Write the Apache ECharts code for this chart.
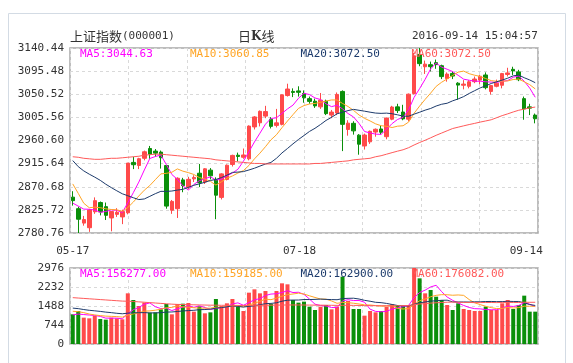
<!DOCTYPE html>
<html><head><meta charset="utf-8">
<script src="https://cdn.jsdelivr.net/npm/echarts@6/dist/echarts.min.js"></script>
<style>html,body{margin:0;padding:0;background:#fff}#c{width:573px;height:363px}</style>
</head><body><div id="c"></div>
<script>
// ---------------- data ----------------
const dates = ['05-17','05-18','05-19','05-20','05-23','05-24','05-25','05-26','05-27','05-30','05-31','06-01','06-02','06-03','06-06','06-07','06-08','06-13','06-14','06-15','06-16','06-17','06-20','06-21','06-22','06-23','06-24','06-27','06-28','06-29','06-30','07-01','07-04','07-05','07-06','07-07','07-08','07-11','07-12','07-13','07-14','07-15','07-18','07-19','07-20','07-21','07-22','07-25','07-26','07-27','07-28','07-29','08-01','08-02','08-03','08-04','08-05','08-08','08-09','08-10','08-11','08-12','08-15','08-16','08-17','08-18','08-19','08-22','08-23','08-24','08-25','08-26','08-29','08-30','08-31','09-01','09-02','09-05','09-06','09-07','09-08','09-09','09-12','09-13','09-14'];
const opens = [2850.5,2828,2800,2791,2822,2840,2832,2810,2817,2812,
2820,2918,2912,2926,2945,2940,2938,2912,2825,2828,
2884,2870,2886,2897,2880,2903,2884,2850,2885,2914,
2932,2928,2925,2987,2995,3008,3002,2990,2992,3048,
3056,3057,3052,3042,3037,3026,3037,3010,3014,3056,
2982,2994,2971,2950,2958,2977,2983,2968,3002,3026,
3016,3002,3052,3128,3104,3108,3112,3106,3081,3091,
3072,3068,3066,3075,3078,3088,3056,3066,3068,3089,
3099,3094,3042,3026,3010];
const highs = [2862,2832,2814,2827,2850,2842,2840,2823,2829,2826,
2917,2929,2927,2941,2950,2944,2941,2913,2845,2889,
2888,2890,2893,2915,2907,2907,2889,2897,2914,2933,
2937,2945,2990,3008,3019,3028,3006,3022,3050,3071,
3062,3066,3058,3046,3042,3053,3040,3020,3054,3058,
3000,2998,2973,2974,2980,2984,2990,3005,3028,3032,
3030,3052,3131,3140.44,3116,3114,3118,3108,3093,3095,
3074,3078,3078,3085,3088,3093,3068,3079,3092,3102,
3104,3098,3046,3032,3013];
const lows = [2834,2780.76,2795,2783,2818,2815,2806,2784,2812,2798,
2817,2905,2905,2922,2925,2929,2906,2828,2818,2810,
2860,2866,2880,2870,2876,2885,2807.6,2846,2883,2910,
2920,2925,2922,2982,2988,3004,2984,2986,2990,3046,
3045,3046,3034,3032,3024,3022,3010,3004,3010,2940,
2970,2972,2933,2943,2954,2968,2972,2963,3000,3014,
3000,2998,3050,3105,3090,3095,3100,3080,3075,3080,
3040,3060,3062,3072,3070,3060,3050,3064,3062,3085,
3088,3076,3001,3010,2994];
const closes = [2843.68,2807.51,2806.91,2825.48,2843.65,2821.67,2815.09,2822.44,2821.05,2822.45,
2916.62,2913.51,2925.23,2938.68,2934.10,2936.04,2927.16,2833.07,2842.19,2887.21,
2872.82,2885.11,2888.81,2878.56,2905.55,2891.96,2854.29,2895.70,2912.56,2931.59,
2929.61,2932.48,2988.60,3006.39,3017.29,3016.85,2988.09,2994.92,3049.38,3060.69,
3054.02,3054.30,3043.56,3036.60,3027.90,3039.01,3012.82,3015.83,3050.17,2992.00,
2994.33,2979.34,2953.39,2971.28,2978.46,2982.43,2976.70,3004.28,3025.68,3018.75,
3002.64,3050.67,3125.20,3110.04,3109.04,3104.11,3108.10,3084.81,3089.71,3085.88,
3068.33,3070.31,3074.68,3080.13,3085.49,3063.31,3067.35,3072.10,3090.71,3091.93,
3095.95,3078.85,3021.98,3023.51,3002.85];
const volumes = [1162,1292,1031,1005,1096,979,953,1031,1005,966,
1984,1723,1488,1619,1227,1240,1358,1566,1162,1566,
1579,1606,1266,1475,1201,1240,1762,1488,1593,1762,
1449,1292,2010,2141,1984,2075,1566,2075,2376,2337,
1723,1619,1658,1462,1331,1462,1527,1358,1462,2637,
1684,1371,1371,1110,1292,1240,1292,1462,1553,1527,
1488,1527,2976,2571,1984,2115,1853,1723,1527,1331,
1593,1371,1331,1292,1292,1462,1331,1331,1593,1723,
1371,1527,1893,1266,1266];
// closes / volumes of the 19 sessions before 05-17 (needed for the MA5/10/20 lines at the left edge)
const priorCloses = [3042.82,2972.58,2952.89,2959.24,2946.67,2964.70,2953.67,2945.59,2938.32,2992.64,2991.27,2997.84,2913.25,2832.59,2832.11,2837.04,2835.86,2827.11,2850.86];
const priorVolumes = [1700,1750,1600,1500,1450,1500,1450,1500,1350,1500,1450,1400,1550,1450,1250,1150,1120,1100,1180];
// MA60 lines
const priceMA60 = [2929,2928,2926,2925,2924,2924,2925,2926,2926,2927,
2928,2929,2930,2932,2933,2934,2934,2933,2932,2931,
2930,2929,2928,2927,2926,2925,2923,2922,2921,2920,
2919,2918,2917,2916,2916,2915,2915,2915,2915,2915,
2915,2915,2915,2915,2916,2916,2917,2918,2919,2920,
2921,2923,2924,2925,2926,2929,2931,2934,2937,
2939.9,2942.6,2946.6,2951.9,2956.7,2961.1,2965.8,2970.7,2975.1,2979.5,2983.9,2986.5,2989.1,2991.6,2993.9,2996.4,2998.6,3000.9,3004.9,3009.0,3012.4,3016.1,3019.4,3021.6,3024.0,3025.6];
const volumeMA60 = [1815,1800,1785,1770,1755,1740,1725,1710,1695,1680,
1675,1665,1650,1635,1620,1605,1590,1575,1560,1550,
1545,1540,1535,1530,1525,1520,1520,1515,1515,1515,
1510,1510,1510,1512,1515,1518,1520,1522,1525,1528,
1528,1528,1526,1524,1522,1520,1518,1515,1512,1515,
1515,1512,1510,1505,1503,1500,1498,1497,1497,
1498,1503,1507,1540,1566,1581,1600,1615,1626,1635,1641,1635,1629,1626,1621,1622,1626,1625,1621,1628,1631,1627,1626,1636,1633,1634];
const priceAxis = {min:2780.76, max:3140.44, step:44.96};
const volumeAxis = {min:0, max:2976, step:744};
const labelledDates = ['05-17','07-18','09-14'];
const priceLegend = ['MA5:3044.63','MA10:3060.85','MA20:3072.50','MA60:3072.50'];
const volumeLegend = ['MA5:156277.00','MA10:159185.00','MA20:162900.00','MA60:176082.00'];
const titleText = '上证指数';
const codeText = '(000001)';
const timeText = '2016-09-14 15:04:57';

// ---------------- helpers ----------------
function movingAverage(n, src, prior){
  const all = prior.concat(src), off = prior.length;
  return src.map((_, i) => { let s = 0; for (let k = 0; k < n; k++) s += all[off + i - k]; return +(s / n).toFixed(2); });
}
const RED = '#ff4a4a', GREEN = '#0a8f0a';
const MAC = ['#ff00ff', '#ffa526', '#1d3b6c', '#ff5a5a'];
const MONO = '"DejaVu Sans Mono", monospace';
const CJK = '"Noto Sans CJK SC", sans-serif';

const candle = dates.map((d, i) => [opens[i], closes[i], lows[i], highs[i]]);
const volBars = volumes.map((v, i) => ({value: v, itemStyle: {color: closes[i] >= opens[i] ? RED : GREEN}}));
const pMA = [movingAverage(5, closes, priorCloses), movingAverage(10, closes, priorCloses), movingAverage(20, closes, priorCloses), priceMA60];
const vMA = [movingAverage(5, volumes, priorVolumes), movingAverage(10, volumes, priorVolumes), movingAverage(20, volumes, priorVolumes), volumeMA60];

const legendX = [80, 190, 300.5, 411.5];
const titles = [
  {text: '{a|' + titleText + '}{b|' + codeText + '}', left: 70, top: 30, padding: 0,
   textStyle: {fontWeight: 'normal', rich: {a: {fontFamily: CJK, fontSize: 13, fontWeight: 'normal', color: '#333'}, b: {fontFamily: MONO, fontSize: 11, fontWeight: 'normal', color: '#333'}}}},
  {text: '{c|日}{k|K}{c|线}', left: 238, top: 30, padding: 0,
   textStyle: {fontWeight: 'normal', rich: {c: {fontFamily: CJK, fontSize: 13, fontWeight: 'normal', color: '#333'}, k: {fontFamily: 'DejaVu Serif', fontWeight: 'bold', fontSize: 12, color: '#333'}}}},
  {text: timeText, left: 412, top: 31, padding: 0, textStyle: {fontFamily: MONO, fontSize: 11, color: '#333', fontWeight: 'normal'}}
];
priceLegend.forEach((t, k) => titles.push({text: t, left: legendX[k], top: 49, padding: 0, textStyle: {fontFamily: MONO, fontSize: 11, color: MAC[k], fontWeight: 'normal'}}));
volumeLegend.forEach((t, k) => titles.push({text: t, left: legendX[k], top: 269, padding: 0, textStyle: {fontFamily: MONO, fontSize: 11, color: MAC[k], fontWeight: 'normal'}}));

const dash = {type: [3, 3], color: '#d9d9d9', width: 1};
const labelFont = {fontFamily: MONO, fontSize: 11, color: '#333'};
function vGridAxis(g){ return {type: 'value', gridIndex: g, min: 0, max: 8, interval: 1, show: true, position: 'top',
  axisLine: {show: false}, axisTick: {show: false}, axisLabel: {show: false}, splitLine: {show: true, lineStyle: dash}}; }
const shift = {'07-18': 9, '09-14': 18};

const option = {
  animation: false,
  backgroundColor: '#fff',
  title: titles,
  graphic: [{type: 'rect', shape: {x: 8.5, y: 13.5, width: 557, height: 400}, style: {fill: 'none', stroke: '#d3dbe4', lineWidth: 1}, silent: true, z: -1}],
  grid: [
    {left: 70, top: 48, width: 468, height: 185, show: true, borderColor: '#a8a8a8', borderWidth: 1.5},
    {left: 70, top: 268, width: 468, height: 76, show: true, borderColor: '#a8a8a8', borderWidth: 1.5}
  ],
  xAxis: [
    {type: 'category', gridIndex: 0, data: dates, boundaryGap: true,
     axisLine: {show: false}, axisTick: {show: false}, splitLine: {show: false},
     axisLabel: Object.assign({}, labelFont, {margin: 13,
       interval: (i, v) => labelledDates.includes(v),
       formatter: (v) => shift[v] ? '{s' + shift[v] + '|' + v + '}' : v,
       rich: {s9: Object.assign({padding: [0, 9, 0, 0]}, labelFont), s18: Object.assign({padding: [0, 18, 0, 0]}, labelFont)}})},
    vGridAxis(0),
    {type: 'category', gridIndex: 1, data: dates, boundaryGap: true,
     axisLine: {show: false}, axisTick: {show: false}, axisLabel: {show: false}, splitLine: {show: false}},
    vGridAxis(1)
  ],
  yAxis: [
    {type: 'value', gridIndex: 0, min: priceAxis.min, max: priceAxis.max, interval: priceAxis.step,
     axisLine: {show: false}, axisTick: {show: false}, splitLine: {show: true, lineStyle: dash},
     axisLabel: Object.assign({}, labelFont, {margin: 6, formatter: v => v.toFixed(2)})},
    {type: 'value', gridIndex: 1, min: volumeAxis.min, max: volumeAxis.max, interval: volumeAxis.step,
     axisLine: {show: false}, axisTick: {show: false}, splitLine: {show: true, lineStyle: dash},
     axisLabel: Object.assign({}, labelFont, {margin: 6, formatter: v => String(Math.round(v))})}
  ],
  series: [
    {type: 'candlestick', xAxisIndex: 0, yAxisIndex: 0, data: candle, barWidth: 4,
     itemStyle: {color: RED, color0: GREEN, borderColor: RED, borderColor0: GREEN, borderWidth: 1}},
    ...pMA.map((d, k) => ({type: 'line', xAxisIndex: 0, yAxisIndex: 0, data: d, symbol: 'none', smooth: false,
     lineStyle: {color: MAC[k], width: 1}, silent: true})),
    {type: 'bar', xAxisIndex: 2, yAxisIndex: 1, data: volBars, barWidth: 4},
    ...vMA.map((d, k) => ({type: 'line', xAxisIndex: 2, yAxisIndex: 1, data: d, symbol: 'none', smooth: false,
     lineStyle: {color: MAC[k], width: 1}, silent: true}))
  ]
};
const chart = echarts.init(document.getElementById('c'));
chart.setOption(option);
</script></body></html>
